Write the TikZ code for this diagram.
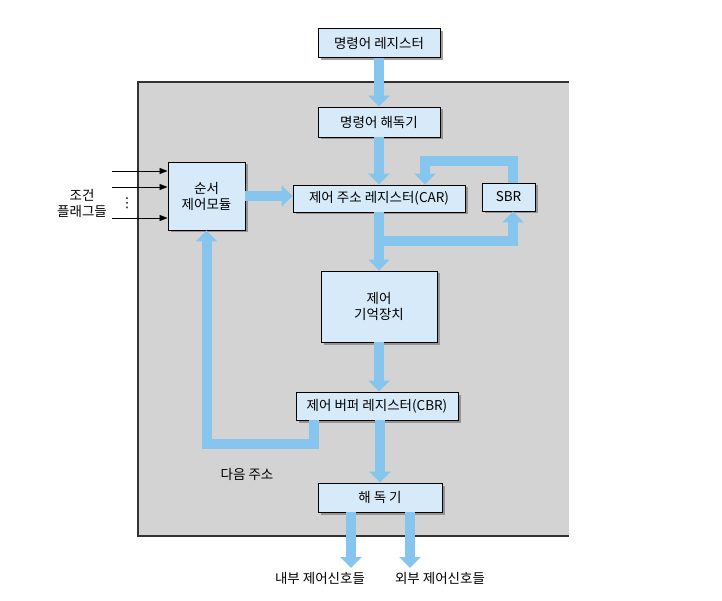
\documentclass[tikz,border=0pt]{standalone}
\usepackage{fontspec}
\setmainfont{Noto Sans CJK KR}
\newfontfamily\symfont{DejaVu Sans}
\usetikzlibrary{arrows.meta,shadows}
\definecolor{bggray}{RGB}{211,211,211}
\definecolor{boxblue}{RGB}{214,234,249}
\definecolor{flowblue}{RGB}{133,197,238}
\tikzset{every picture/.append style={x=1pt, y=-1pt}}
\tikzset{
    every node/.style={font=\fontsize{13.5}{16}\selectfont},
    unit/.style={rectangle, draw=black, line width=0.9pt, fill=boxblue,
    	inner sep=0pt, align=center,
    	drop shadow={shadow xshift=2.5pt, shadow yshift=-2.5pt, opacity=.75}},
    flow/.style={draw=flowblue, line width=10pt,
    	-{Triangle[width=21pt,length=11pt]}},
    cond/.style={line width=0.8pt, -{Triangle[width=6pt,length=8pt]}}
}

\begin{document}
\begin{tikzpicture}
  \useasboundingbox (0,0) rectangle (722,601);
  \fill[bggray] (138,82) rectangle (569,536);
  \draw[line width=1.2pt, black!80] (569,82) -- (138,82) -- (138,536) -- (569,536);

  \node (ireg) [unit, minimum width=122pt, minimum height=29pt] at (379,43) {명령어 레지스터};
  \node (idec) [unit, minimum width=122pt, minimum height=30pt] at (379,122) {명령어 해독기};
  \node (seq) [unit, minimum width=77pt, minimum height=68pt] at (206.5,196) {순서\\제어모듈};
  \node (car) [unit, minimum width=172pt, minimum height=27pt] at (379,198.5) {제어 주소 레지스터(CAR)};
  \node (sbr) [unit, minimum width=53pt, minimum height=28pt] at (508.5,197) {SBR};
  \node (mem) [unit, minimum width=116pt, minimum height=71pt] at (379,306.5) {제어\\기억장치};
  \node (cbr) [unit, minimum width=162pt, minimum height=28pt] at (377,406) {제어 버퍼 레지스터(CBR)};
  \node (dec) [unit, minimum width=124pt, minimum height=29pt] at (380,497.5) {해 독 기};

  \node (flags) [align=center] at (82,203) {조건\\플래그들};
  \node (dots) at (127,203) {\symfont ⋮};
  \node (next) at (247,474) {다음 주소};
  \node (intl) at (320,578) {내부 제어신호들};
  \node (extl) at (440,578) {외부 제어신호들};

  \coordinate (c1) at (112,171);
  \coordinate (c2) at (112,187);
  \coordinate (c3) at (112,218);
  \coordinate (split) at (379,241);
  \coordinate (back) at (513,161);
  \coordinate (carback) at (425,161);
  \coordinate (nxt) at (314,444);
  \coordinate (intend) at (351,568);
  \coordinate (extend) at (410,568);

  \draw[flow] (ireg) -- (idec);
  \draw[flow] (idec) -- (car);
  \draw[flow] (seq.east) -- (seq.east -| car.west);
  \draw[flow] (back |- sbr.north) -- (back) -- (carback) -- (carback |- car.north);
  \draw[flow] (car) -- (mem);
  \draw[flow] (split) -| (back |- sbr.south);
  \draw[flow] (mem) -- (cbr.north -| mem.south);
  \draw[flow] (cbr.south -| dec.north) -- (dec);
  \draw[flow] (nxt |- cbr.south) -- (nxt) -| (seq.south);
  \draw[flow] (intend |- dec.south) -- (intend);
  \draw[flow] (extend |- dec.south) -- (extend);

  \draw[cond] (c1) -- (c1 -| seq.west);
  \draw[cond] (c2) -- (c2 -| seq.west);
  \draw[cond] (c3) -- (c3 -| seq.west);
\end{tikzpicture}
\end{document}
